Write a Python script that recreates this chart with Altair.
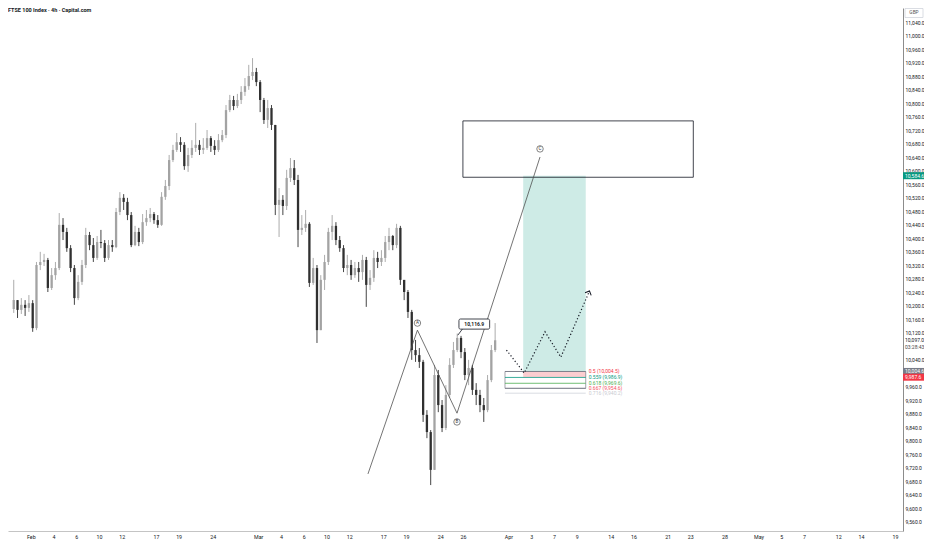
import altair as alt
import pandas as pd

# ------------------------------------------------------------------ data
title_text = "FTSE 100 Index \u00b7 4h \u00b7 Capital.com"
currency = "GBP"

# 4h candles, day index 0 = Mon 2 Feb (trading days only), 3 bars per day
bar_start_day = -1.5
bars_per_day = 3
first_open = 10190
closes = [10216, 10187, 10202, 10193, 10207, 10133, 10320, 10329, 10335, 10252,
          10290, 10311, 10439, 10418, 10370, 10311, 10222, 10270, 10320, 10409,
          10379, 10341, 10388, 10385, 10341, 10379, 10373, 10477, 10519, 10507,
          10468, 10379, 10418, 10388, 10447, 10459, 10471, 10453, 10439, 10522,
          10554, 10631, 10661, 10684, 10676, 10613, 10646, 10667, 10676, 10661,
          10667, 10696, 10673, 10661, 10690, 10705, 10779, 10809, 10791, 10809,
          10833, 10850, 10880, 10892, 10862, 10809, 10750, 10785, 10735, 10498,
          10513, 10495, 10578, 10607, 10572, 10424, 10430, 10442, 10267, 10311,
          10127, 10276, 10329, 10418, 10436, 10394, 10370, 10311, 10320, 10290,
          10311, 10299, 10335, 10261, 10282, 10341, 10329, 10341, 10388, 10406,
          10379, 10430, 10276, 10240, 10181, 10068, 10053, 10033, 9876, 9825,
          9713, 9994, 9905, 9837, 9935, 10024, 10068, 10104, 10062, 9994,
          10015, 9950, 9935, 9905, 9890, 9979, 10068, 10097]
highs = [10276, 10216, 10222, 10216, 10231, 10216, 10329, 10359, 10353, 10341,
         10311, 10329, 10474, 10459, 10430, 10379, 10320, 10290, 10335, 10430,
         10418, 10400, 10406, 10424, 10394, 10394, 10394, 10489, 10536, 10530,
         10519, 10477, 10436, 10430, 10471, 10483, 10489, 10477, 10468, 10536,
         10572, 10646, 10676, 10711, 10699, 10684, 10667, 10690, 10741, 10690,
         10696, 10720, 10702, 10690, 10708, 10720, 10794, 10824, 10821, 10827,
         10850, 10874, 10913, 10933, 10904, 10868, 10815, 10809, 10794, 10735,
         10548, 10527, 10602, 10637, 10631, 10587, 10468, 10483, 10447, 10341,
         10320, 10290, 10350, 10430, 10468, 10447, 10406, 10379, 10350, 10335,
         10329, 10329, 10350, 10344, 10305, 10364, 10359, 10364, 10406, 10430,
         10409, 10442, 10436, 10270, 10246, 10187, 10098, 10074, 10039, 9890,
         9831, 10024, 10009, 9920, 9964, 10044, 10092, 10117, 10110, 10074,
         10039, 10024, 9970, 9950, 9926, 9994, 10083, 10148]
lows = [10178, 10163, 10175, 10169, 10181, 10122, 10127, 10305, 10317, 10240,
        10246, 10276, 10305, 10394, 10359, 10299, 10202, 10216, 10261, 10311,
        10364, 10329, 10335, 10370, 10329, 10335, 10359, 10370, 10468, 10483,
        10453, 10373, 10376, 10376, 10382, 10436, 10447, 10442, 10430, 10436,
        10513, 10542, 10625, 10655, 10655, 10602, 10596, 10637, 10655, 10646,
        10649, 10661, 10655, 10646, 10655, 10684, 10696, 10773, 10779, 10785,
        10797, 10821, 10839, 10868, 10850, 10773, 10738, 10726, 10720, 10468,
        10403, 10468, 10483, 10566, 10557, 10373, 10409, 10418, 10255, 10261,
        10089, 10127, 10246, 10320, 10394, 10379, 10359, 10299, 10290, 10276,
        10282, 10270, 10276, 10196, 10246, 10270, 10311, 10317, 10329, 10364,
        10364, 10370, 10261, 10216, 10163, 10039, 10033, 10015, 9855, 9807,
        9668, 9713, 9884, 9825, 9831, 9926, 10015, 10062, 10044, 9979,
        9964, 9935, 9905, 9884, 9855, 9884, 9973, 10062]

x_tick_days = [0, 2, 4, 6, 8, 11, 13, 16, 20, 22, 24, 26, 28, 31, 33, 36, 38,
               42, 44, 46, 48, 51, 53, 56, 58, 61, 64, 66, 68, 71, 73, 76]
x_tick_labels = ["Feb", "4", "6", "10", "12", "17", "19", "24", "Mar", "4", "6",
                 "10", "12", "17", "19", "24", "26", "Apr", "3", "7", "9", "14",
                 "16", "21", "23", "28", "May", "5", "7", "12", "14", "19"]
hidden_price_ticks = [10000, 10080]          # covered by the price tags
y_tick_values = [v for v in range(9520, 11041, 40) if v not in hidden_price_ticks]

# Elliott ABC path
wave_days = [29.65, 34.0, 37.48, 44.78]
wave_prices = [9701, 10127, 9881, 10640]
wave_marks = ["A", "B", "C"]
wave_mark_days = [34.0, 37.48, 44.78]
wave_mark_prices = [10148, 9855, 10664]

# projected path (dotted)
proj_days = [41.83, 43.39, 45.22, 46.61, 49.13]
proj_prices = [10068, 10000, 10122, 10047, 10243]

# target zone box, long position box
target_box = dict(d0=38.0, d1=58.26, p0=10580, p1=10747)
profit_box = dict(d0=43.3, d1=48.8, p0=10004.6, p1=10584.6)
stop_box = dict(d0=43.3, d1=48.8, p0=9987.6, p1=10004.6)

# Fibonacci retracement
fib_d0, fib_d1 = 41.7, 48.8
fib_ratios = ["0.5", "0.559", "0.618", "0.667", "0.716"]
fib_prices = [10004.5, 9986.9, 9969.6, 9954.6, 9940.2]
fib_colors = ["#f23645", "#089981", "#4caf50", "#f7525f", "#c9cbd1"]
fib_line_colors = ["#787b86", "#089981", "#4caf50", "#787b86", "#d1d4dc"]

# swing-high callout
callout_text = "10,116.9"
callout_box = dict(d0=37.65, d1=40.35, p0=10130, p1=10160)
callout_tip = dict(d0=37.95, p0=10130, d1=37.55, p1=10112)

# right-hand price scale labels
price_tags = [10584.6, 10097.0, 10004.6, 9987.6]
price_tag_bg = ["#089981", "", "#787b86", "#f23645"]
price_tag_fg = ["#ffffff", "#131722", "#ffffff", "#ffffff"]
price_tag_shift = [0, 0, -1.2, 1.6]          # px, labels pushed apart
countdown = "03:28:43"

# ------------------------------------------------------------------ layout
W, H = 895, 523
PAD_R = 21
X_DOMAIN = [-1.565, 76.26]
Y_DOMAIN = [9531.9, 11081.5]
FONT = "Roboto"
INK = "#131722"
LBL = 5.0

xscale = alt.Scale(domain=X_DOMAIN, nice=False, zero=False)
yscale = alt.Scale(domain=Y_DOMAIN, nice=False, zero=False)

label_expr = "[{}][indexof([{}], datum.value)]".format(
    ",".join("'%s'" % s for s in x_tick_labels),
    ",".join(str(v) for v in x_tick_days))

xaxis = alt.Axis(values=x_tick_days, labelExpr=label_expr, grid=False, ticks=False,
                 domainColor="#c4c4c4", domainWidth=1.2, labelFontSize=5.3,
                 labelFont=FONT, labelColor=INK, labelPadding=3, title=None,
                 labelOverlap=False, labelFlush=False)
yaxis = alt.Axis(orient="right", values=y_tick_values, format=",.1f", grid=False,
                 ticks=False, domainColor="#8c8c8c", domainWidth=1, labelFontSize=LBL,
                 labelFont=FONT, labelColor=INK, labelPadding=2, title=None,
                 labelOverlap=False, labelFlush=False)


def X(f):
    return alt.X(f"{f}:Q", scale=xscale, axis=xaxis)


def Y(f):
    return alt.Y(f"{f}:Q", scale=yscale, axis=yaxis)


# candles
opens = [first_open] + closes[:-1]
days = [bar_start_day + i / bars_per_day for i in range(len(closes))]
candles = pd.DataFrame({"d": days, "o": opens, "h": highs, "l": lows, "c": closes})
candles["dir"] = ["up" if c >= o else "down" for o, c in zip(opens, closes)]
ccolor = alt.Color("dir:N", scale=alt.Scale(domain=["up", "down"],
                                            range=["#a3a3a3", "#303030"]), legend=None)

wicks = alt.Chart(candles).mark_rule(strokeWidth=0.9).encode(
    x=X("d"), y=Y("l"), y2="h:Q", color=ccolor)
bodies = alt.Chart(candles).mark_bar(size=2.3).encode(
    x=X("d"), y=Y("o"), y2="c:Q", color=ccolor)


def box_df(b):
    return pd.DataFrame([b])


target = alt.Chart(box_df(target_box)).mark_rect(
    fill="white", fillOpacity=0, stroke=INK, strokeWidth=0.8).encode(
    x=X("d0"), x2="d1:Q", y=Y("p0"), y2="p1:Q")
profit = alt.Chart(box_df(profit_box)).mark_rect(
    fill="#089981", fillOpacity=0.2).encode(
    x=X("d0"), x2="d1:Q", y=Y("p0"), y2="p1:Q")
stop = alt.Chart(box_df(stop_box)).mark_rect(
    fill="#f23645", fillOpacity=0.25).encode(
    x=X("d0"), x2="d1:Q", y=Y("p0"), y2="p1:Q")

fib_frame = alt.Chart(pd.DataFrame([dict(d0=fib_d0, d1=fib_d1, p0=fib_prices[3],
                                         p1=fib_prices[0])])).mark_rect(
    fillOpacity=0, stroke="#787b86", strokeWidth=0.7).encode(
    x=X("d0"), x2="d1:Q", y=Y("p0"), y2="p1:Q")
fib_df = pd.DataFrame({"d0": fib_d0, "d1": fib_d1, "p": fib_prices,
                       "lc": fib_line_colors, "tc": fib_colors,
                       "txt": ["%s (%s)" % (r, f"{p:,.1f}") for r, p in zip(fib_ratios, fib_prices)]})
fib_lines = alt.Chart(fib_df).mark_rule(strokeWidth=0.8).encode(
    x=X("d0"), x2="d1:Q", y=Y("p"), color=alt.Color("lc:N", scale=None))
fib_text = alt.Chart(fib_df).mark_text(align="left", baseline="middle", fontSize=5,
                                       font=FONT, dx=3).encode(
    x=X("d1"), y=Y("p"), text="txt:N", color=alt.Color("tc:N", scale=None))

wave_df = pd.DataFrame({"d": wave_days, "p": wave_prices, "i": range(len(wave_days))})
wave = alt.Chart(wave_df).mark_line(color="#505050", strokeWidth=0.8).encode(
    x=X("d"), y=Y("p"), order="i:Q")
wm_df = pd.DataFrame({"d": wave_mark_days, "p": wave_mark_prices, "t": wave_marks})
wave_circles = alt.Chart(wm_df).mark_point(shape="circle", size=42, filled=True,
                                           fill="white", stroke="#505050",
                                           strokeWidth=0.7, opacity=1).encode(
    x=X("d"), y=Y("p"))
wave_letters = alt.Chart(wm_df).mark_text(fontSize=4.5, font=FONT, color="#333333",
                                          baseline="middle").encode(
    x=X("d"), y=Y("p"), text="t:N")

proj_df = pd.DataFrame({"d": proj_days, "p": proj_prices, "i": range(len(proj_days))})
proj = alt.Chart(proj_df).mark_line(color=INK, strokeWidth=1.2,
                                    strokeDash=[1.2, 2.2]).encode(
    x=X("d"), y=Y("p"), order="i:Q")
arrow = alt.Chart(proj_df.tail(1)).mark_point(
    shape="M-1,1L0,0L1,1", size=45, filled=False, stroke=INK, strokeWidth=1,
    angle=24, opacity=1).encode(x=X("d"), y=Y("p"))

cb = alt.Chart(box_df(callout_box)).mark_rect(
    fill="white", stroke=INK, strokeWidth=0.8, cornerRadius=1.5).encode(
    x=X("d0"), x2="d1:Q", y=Y("p0"), y2="p1:Q")
ctip = alt.Chart(box_df(callout_tip)).mark_rule(color=INK, strokeWidth=0.8).encode(
    x=X("d0"), x2="d1:Q", y=Y("p0"), y2="p1:Q")
ctext = alt.Chart(pd.DataFrame([dict(d=(callout_box["d0"] + callout_box["d1"]) / 2,
                                     p=(callout_box["p0"] + callout_box["p1"]) / 2,
                                     t=callout_text)])).mark_text(
    fontSize=5, font=FONT, fontWeight="bold", color=INK, baseline="middle").encode(
    x=X("d"), y=Y("p"), text="t:N")

# right scale tags
tag_df = pd.DataFrame({"p": price_tags, "bg": price_tag_bg, "fg": price_tag_fg,
                       "off": price_tag_shift,
                       "t": [f"{v:,.1f}" for v in price_tags]})
tag_box = alt.Chart(tag_df[tag_df.bg != ""]).mark_point(
    shape="M-1,-0.333L1,-0.333L1,0.333L-1,0.333Z", size=441, filled=True,
    opacity=1).encode(x=alt.value(W + 10.5), y=Y("p"),
                      yOffset=alt.YOffset("off:Q", scale=None),
                      color=alt.Color("bg:N", scale=None))
tag_text = alt.Chart(tag_df).mark_text(align="left", baseline="middle", fontSize=LBL,
                                       font=FONT).encode(
    x=alt.value(W + 2), y=Y("p"), yOffset=alt.YOffset("off:Q", scale=None),
    text="t:N", color=alt.Color("fg:N", scale=None))
cd_text = alt.Chart(pd.DataFrame([dict(p=price_tags[1], t=countdown)])).mark_text(
    align="left", baseline="middle", fontSize=LBL, font=FONT, dy=7, color="#4a4a4a").encode(
    x=alt.value(W + 2), y=Y("p"), text="t:N")

title = alt.Chart(pd.DataFrame([dict(t=title_text)])).mark_text(
    align="left", baseline="top", fontSize=5.5, font=FONT, fontWeight="bold",
    color=INK).encode(x=alt.value(0), y=alt.value(0), text="t:N")
gbp_box = alt.Chart(pd.DataFrame([dict(t=currency)])).mark_point(
    shape="M-1,-0.5L1,-0.5L1,0.5L-1,0.5Z", size=324, filled=False,
    stroke="#d1d4dc", strokeWidth=0.8, opacity=1).encode(
    x=alt.value(W + 11), y=alt.value(5))
gbp = alt.Chart(pd.DataFrame([dict(t=currency)])).mark_text(
    align="center", baseline="middle", fontSize=4.8, font=FONT, color="#555555").encode(
    x=alt.value(W + 11), y=alt.value(5), text="t:N")

chart = alt.layer(
    profit, stop, target, fib_frame, fib_lines, fib_text,
    wicks, bodies, wave, wave_circles, wave_letters, proj, arrow,
    cb, ctip, ctext, tag_box, tag_text, cd_text, title, gbp_box, gbp
).properties(
    width=W, height=H,
    autosize=alt.AutoSizeParams(type="none"),
    padding={"left": 0, "top": 0, "right": PAD_R, "bottom": 10},
    background="white",
).configure_view(stroke=None)

chart.save("out.html", embed_options={"renderer": "svg", "actions": False})
